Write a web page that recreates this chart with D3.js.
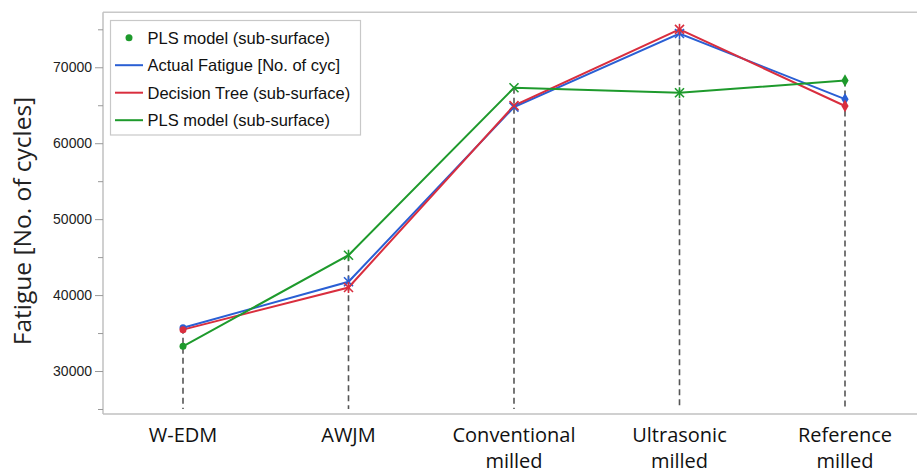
<!DOCTYPE html>
<html><head><meta charset="utf-8">
<script src="https://cdn.jsdelivr.net/npm/d3@7"></script>
<style>body{margin:0;background:#fff}svg{display:block}</style>
</head><body><svg id="c" width="917" height="473"></svg>
<script>
const categories = [["W-EDM"],["AWJM"],["Conventional","milled"],["Ultrasonic","milled"],["Reference","milled"]];
const actualFatigue = [35700, 41750, 64750, 74450, 65800];
const decisionTree  = [35450, 41000, 64950, 75000, 64900];
const plsModel      = [33250, 45250, 67300, 66650, 68250];
const markerShapes  = ["circle","asterisk","cross","asterisk","diamond"];
const yTicks = [30000, 40000, 50000, 60000, 70000];
const yMinorTicks = [25000, 35000, 45000, 55000, 65000, 75000];
const legendLabels = ["PLS model (sub-surface)","Actual Fatigue [No. of cyc]","Decision Tree (sub-surface)","PLS model (sub-surface)"];

const series = [
  {name:"Actual Fatigue", values:actualFatigue, color:"#2a5fd4"},
  {name:"Decision Tree", values:decisionTree, color:"#d92e3e"},
  {name:"PLS model", values:plsModel, color:"#1e9a2c"}
];

const svg = d3.select("#c");
const L = 103, R = 917, T = 12.3, B = 414;
const x = d3.scalePoint().domain(d3.range(categories.length)).range([183, 845]);
const y = d3.scaleLinear().domain([24340, 77240]).range([B, T]);

// frame
svg.append("line").attr("x1",L).attr("x2",R).attr("y1",T).attr("y2",T).attr("stroke","#c8c8c8").attr("stroke-width",1.5);
svg.append("line").attr("x1",L).attr("x2",R).attr("y1",B).attr("y2",B).attr("stroke","#c0c0c0").attr("stroke-width",1.5);
svg.append("line").attr("x1",L).attr("x2",L).attr("y1",T).attr("y2",B).attr("stroke","#c0c0c0").attr("stroke-width",1.5);

// y axis
const ya = svg.append("g").attr("transform",`translate(${L},0)`)
  .call(d3.axisLeft(y).tickValues(yTicks).tickSize(8).tickPadding(3).tickFormat(d3.format("d")));
ya.select(".domain").remove();
ya.selectAll(".tick line").attr("stroke","#999");
ya.selectAll(".tick text").attr("font-family","Liberation Sans, Arial, sans-serif").attr("font-size",14).attr("fill","#222");
const ym = svg.append("g").attr("transform",`translate(${L},0)`)
  .call(d3.axisLeft(y).tickValues(yMinorTicks).tickSize(5).tickFormat(""));
ym.select(".domain").remove();
ym.selectAll(".tick line").attr("stroke","#999");

svg.append("text").attr("transform","translate(31,221) rotate(-90)").attr("text-anchor","middle")
  .attr("font-family","Open Sans, sans-serif").attr("font-size",24.5).attr("fill","#222").text("Fatigue [No. of cycles]");

// x labels
const xl = svg.append("g");
categories.forEach((c,i)=>{
  const t = xl.append("text").attr("text-anchor","middle").attr("font-family","Open Sans, sans-serif")
    .attr("font-size",20).attr("fill","#111");
  c.forEach((ln,j)=>t.append("tspan").attr("x",x(i)).attr("y",442+j*25.5).text(ln));
});

// drop lines
categories.forEach((c,i)=>{
  const top = d3.max(series, s=>s.values[i]);
  svg.append("line").attr("x1",x(i)).attr("x2",x(i)).attr("y1",y(top)).attr("y2",409)
    .attr("stroke","#555").attr("stroke-width",1.6).attr("stroke-dasharray","6,4");
});

// lines
const line = d3.line().x((d,i)=>x(i)).y(d=>y(d));
series.forEach(s=>{
  svg.append("path").attr("d",line(s.values)).attr("fill","none").attr("stroke",s.color).attr("stroke-width",2);
});

// markers
function marker(g, shape, cx, cy, color){
  const r = 4.5;
  if(shape==="circle"){
    g.append("circle").attr("cx",cx).attr("cy",cy).attr("r",3.5).attr("fill",color);
  } else if(shape==="diamond"){
    g.append("path").attr("transform",`translate(${cx},${cy})`)
      .attr("d",d3.symbol().type(d3.symbolDiamond).size(45)()).attr("fill",color);
  } else {
    let segs = [[-r,-r,r,r],[-r,r,r,-r]];
    if(shape==="asterisk") segs.push([0,-r-1,0,r+1]);
    segs.forEach(s=>g.append("line").attr("x1",cx+s[0]).attr("y1",cy+s[1]).attr("x2",cx+s[2]).attr("y2",cy+s[3])
      .attr("stroke",color).attr("stroke-width",1.6));
  }
}
const mg = svg.append("g");
series.forEach(s=>{
  s.values.forEach((v,i)=>marker(mg, markerShapes[i], x(i), y(v), s.color));
});

// legend
const lg = svg.append("g");
lg.append("rect").attr("x",110.5).attr("y",20.5).attr("width",250).attr("height",114.5)
  .attr("fill","#fff").attr("stroke","#c8c8c8").attr("stroke-width",1.2);
const legColors = ["#1e9a2c","#2a5fd4","#d92e3e","#1e9a2c"];
legendLabels.forEach((lab,i)=>{
  const cy = 37.7 + i*27.5;
  if(i===0) lg.append("circle").attr("cx",129).attr("cy",cy).attr("r",3.5).attr("fill",legColors[i]);
  else lg.append("line").attr("x1",115).attr("x2",143).attr("y1",cy).attr("y2",cy).attr("stroke",legColors[i]).attr("stroke-width",2);
  lg.append("text").attr("x",147.5).attr("y",cy+5.8).attr("font-family","Liberation Sans, Arial, sans-serif")
    .attr("font-size",16.5).attr("fill","#111").text(lab);
});
</script></body></html>
